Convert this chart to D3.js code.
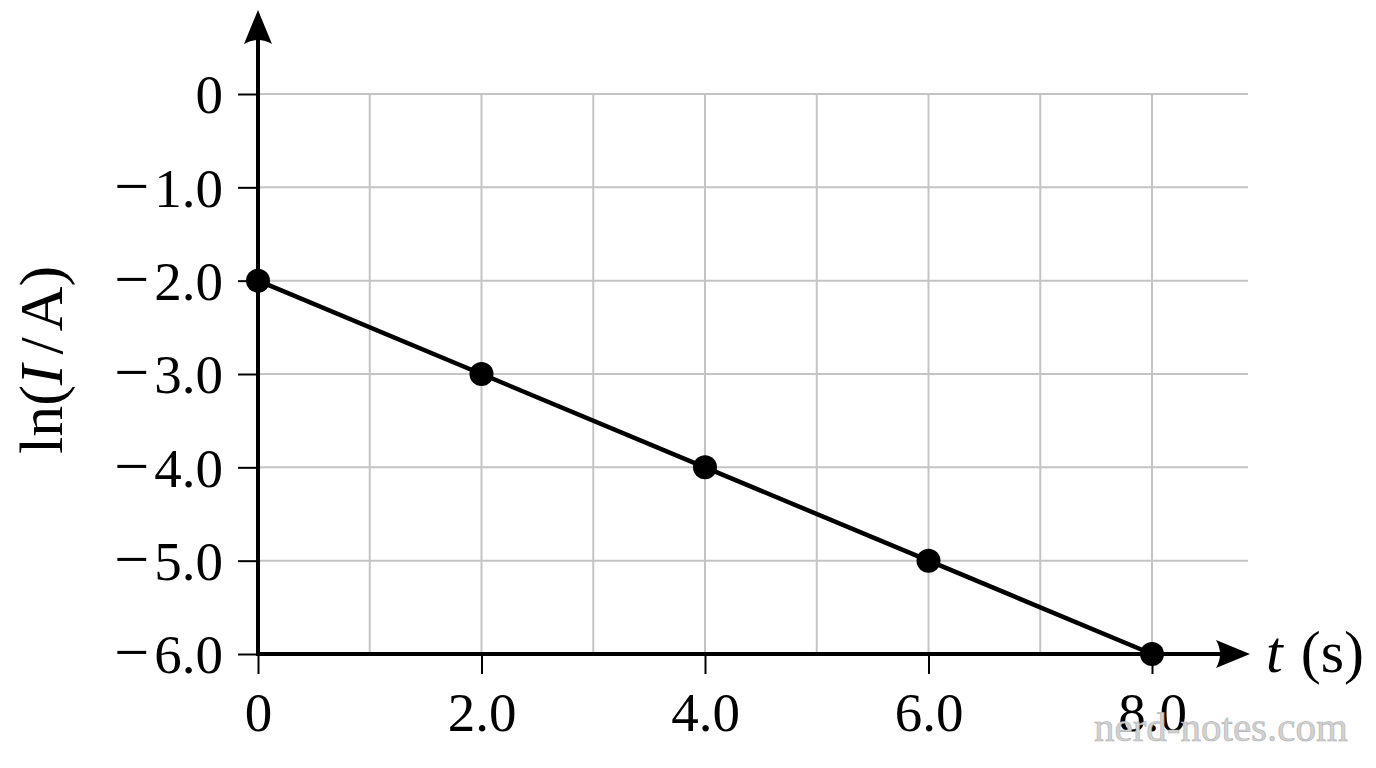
<!DOCTYPE html>
<html>
<head>
<meta charset="utf-8">
<script src="https://cdn.jsdelivr.net/npm/d3@7"></script>
<style>
  html, body { margin: 0; padding: 0; background: #fff; }
  svg { display: block; }
  text { font-family: "Liberation Serif", "Times New Roman", serif; fill: #000; }
</style>
</head>
<body>
<svg id="chart" width="1376" height="768"></svg>
<script>
// ---- data ----
const tValues = [0, 2, 4, 6, 8];
const lnIValues = [-2, -3, -4, -5, -6];
const xTickValues = [0, 2, 4, 6, 8];
const xTickLabels = ["0", "2.0", "4.0", "6.0", "8.0"];
const yTickValues = [0, -1, -2, -3, -4, -5, -6];
const yTickLabels = ["0", "\u22121.0", "\u22122.0", "\u22123.0", "\u22124.0", "\u22125.0", "\u22126.0"];
const xGridValues = [1, 2, 3, 4, 5, 6, 7, 8];
const yGridValues = [0, -1, -2, -3, -4, -5];

const svg = d3.select("#chart");
const x = d3.scaleLinear().domain([0, 8]).range([258, 1152]);
const y = d3.scaleLinear().domain([-6, 0]).range([654, 94]);
const xMaxGrid = x.invert(1248);

// grid
const grid = svg.append("g").attr("stroke", "#c4c4c4").attr("stroke-width", 2);
grid.selectAll("line.v").data(xGridValues).join("line")
  .attr("x1", d => x(d)).attr("x2", d => x(d))
  .attr("y1", y(0)).attr("y2", y(-6));
grid.selectAll("line.h").data(yGridValues).join("line")
  .attr("x1", x(0)).attr("x2", x(xMaxGrid))
  .attr("y1", d => y(d)).attr("y2", d => y(d));

// y axis ticks + labels
const yAxis = d3.axisLeft(y).tickValues(yTickValues).tickSize(20).tickPadding(15)
  .tickFormat((d, i) => yTickLabels[i]);
const gy = svg.append("g").attr("transform", `translate(${x(0)},0)`).call(yAxis);
gy.select(".domain").remove();
gy.selectAll(".tick line").attr("stroke", "#000").attr("stroke-width", 2);
gy.selectAll(".tick text")
  .attr("font-family", "Liberation Serif, serif").attr("font-size", 55).attr("fill", "#000").attr("dy", "0.34em")
  .each(function () {
    const s = d3.select(this).text();
    if (s.startsWith("\u2212")) {
      const t = d3.select(this).text("");
      t.append("tspan").attr("font-size", 62).text("\u2212");
      t.append("tspan").attr("dx", 5).text(s.slice(1));
    }
  });

// x axis ticks + labels
const xAxis = d3.axisBottom(x).tickValues(xTickValues).tickSize(20).tickPadding(16)
  .tickFormat((d, i) => xTickLabels[i]);
const gx = svg.append("g").attr("transform", `translate(0,${y(-6)})`).call(xAxis);
gx.select(".domain").remove();
gx.selectAll(".tick line").attr("stroke", "#000").attr("stroke-width", 2);
gx.selectAll(".tick text").attr("font-family", "Liberation Serif, serif").attr("font-size", 55).attr("fill", "#000").attr("dy", "0.74em");

// axis lines with arrows
const axX0 = x(0), axY0 = y(-6);
svg.append("line").attr("x1", axX0).attr("x2", 1222).attr("y1", axY0).attr("y2", axY0)
  .attr("stroke", "#000").attr("stroke-width", 4);
svg.append("line").attr("x1", axX0).attr("x2", axX0).attr("y1", axY0 + 2).attr("y2", 36)
  .attr("stroke", "#000").attr("stroke-width", 4);
// x arrow head (tip at 1250)
const tipX = 1250;
svg.append("path")
  .attr("d", `M${tipX},${axY0} L${tipX - 34},${axY0 - 14} Q${tipX - 26},${axY0} ${tipX - 34},${axY0 + 14} Z`)
  .attr("fill", "#000");
// y arrow head (tip at 10)
const tipY = 10;
svg.append("path")
  .attr("d", `M${axX0},${tipY} L${axX0 - 14},${tipY + 34} Q${axX0},${tipY + 26} ${axX0 + 14},${tipY + 34} Z`)
  .attr("fill", "#000");

// data line and points
const pts = tValues.map((t, i) => [t, lnIValues[i]]);
svg.append("path").datum(pts)
  .attr("d", d3.line().x(d => x(d[0])).y(d => y(d[1])))
  .attr("fill", "none").attr("stroke", "#000").attr("stroke-width", 4.5);
svg.selectAll("circle.pt").data(pts).join("circle")
  .attr("cx", d => x(d[0])).attr("cy", d => y(d[1])).attr("r", 12).attr("fill", "#000");

// y label
const yl = svg.append("text")
  .attr("transform", "translate(62,360) rotate(-90)")
  .attr("text-anchor", "middle").attr("font-size", 62);
yl.append("tspan").text("ln(");
yl.append("tspan").attr("font-style", "italic").text("I");
yl.append("tspan").attr("dx", 10).text("/");
yl.append("tspan").attr("dx", 6).text("A)");

// x label
const xl = svg.append("text").attr("x", 1266).attr("y", 672).attr("font-size", 60);
xl.append("tspan").attr("font-style", "italic").text("t");
xl.append("tspan").attr("dx", 18).text("(s)");

// watermark
svg.append("text").attr("x", 1094).attr("y", 741).attr("font-size", 41)
  .attr("fill", "#d2d2d2").attr("stroke", "#b0b0b0").attr("stroke-width", 0.6)
  .style("fill", "#d2d2d2")
  .text("nerd-notes.com");
</script>
</body>
</html>
